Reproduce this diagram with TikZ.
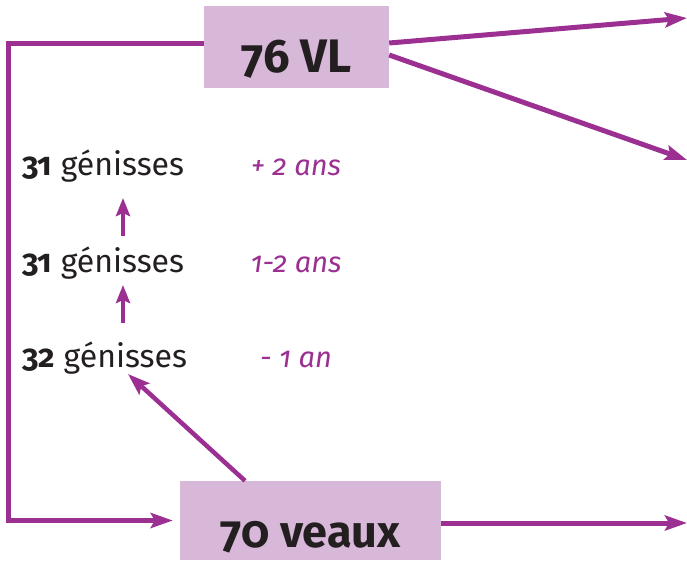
\documentclass[tikz,border=0pt]{standalone}
\usepackage{fontspec}
\setmainfont{Fira Sans}[Numbers=OldStyle]
\usetikzlibrary{
arrows.meta,
calc,
positioning
}
\definecolor{violet_trait}{RGB}{155,47,146}
\definecolor{mauve_fond}{RGB}{216,184,216}
\definecolor{encre}{RGB}{35,31,32}

\begin{document}
\begin{tikzpicture}
[x=1pt, y=-1pt,
block_count/.style ={rectangle, fill=mauve_fond, text=encre, font=\fontsize{47}{47}\selectfont\bfseries, inner sep=0pt},
heifer/.style ={anchor=base west, inner sep=0pt, text=encre, font=\fontsize{32}{32}\selectfont},
age/.style ={anchor=base, inner sep=0pt, text=violet_trait, font=\fontsize{29}{29}\selectfont\itshape},
line_flow/.style ={draw=violet_trait, line width=5pt, -{Stealth[length=22pt,width=15pt,inset=4pt]}},
line_up/.style ={draw=violet_trait, line width=4.5pt, -{Stealth[length=18pt,width=14pt,inset=3pt]}}
]
\useasboundingbox (0,0) rectangle (687,560);

% troupeau
\node [block_count, minimum width=185pt, minimum height=82pt, text height=57pt, text depth=7pt] (vl) at (296.5,47) {76 VL};
\node [block_count, font=\fontsize{45}{45}\selectfont\bfseries, minimum width=261pt, minimum height=79pt, text height=60pt, text depth=7pt] (veaux) at (310.5,520.5) {70 veaux};

% renouvellement
\node [heifer] (g1) at (22,175) {\textbf{31} génisses};
\node [heifer] (g2) at (22,272) {\textbf{31} génisses};
\node [heifer] (g3) at (22,367) {\textbf{32} génisses};

\node [age] (a1) at (296,175) {+ 2 ans};
\node [age] (a2) at (296,272) {1-2 ans};
\node [age] (a3) at (296,367) {- 1 an};

% points libres
\coordinate (col) at (123,0);
\coordinate (col_diag) at (128,0);
\coordinate (edge) at (8,0);
\coordinate (vl_left) at ([yshift=4pt]vl.west);
\coordinate (out1) at (687,18);
\coordinate (out2) at (687,160);
\coordinate (out3) at (687,523);

%Fleches genisses
 \draw [line_up, shorten <=10pt, shorten >=16pt](g2.north -| col) -- (g1.south -| col);
 \draw [line_up, shorten <=18pt, shorten >=6pt](g3.north -| col) -- (g2.south -| col);
 \draw [line_flow, line width=4.5pt]([xshift=-65.5pt]veaux.north) -- (g3.south -| col_diag);

%Fleches boucle
 \draw [line_flow, shorten >=7pt](vl_left) -- (vl_left -| edge) |- (veaux.west);

%Fleches sorties
 \draw [line_flow]([yshift=4pt]vl.east) -- (out1);
 \draw [line_flow]([yshift=-8pt]vl.east) -- (out2);
 \draw [line_flow]([yshift=-2.5pt]veaux.east) -- (out3);

\end{tikzpicture}
\end{document}
